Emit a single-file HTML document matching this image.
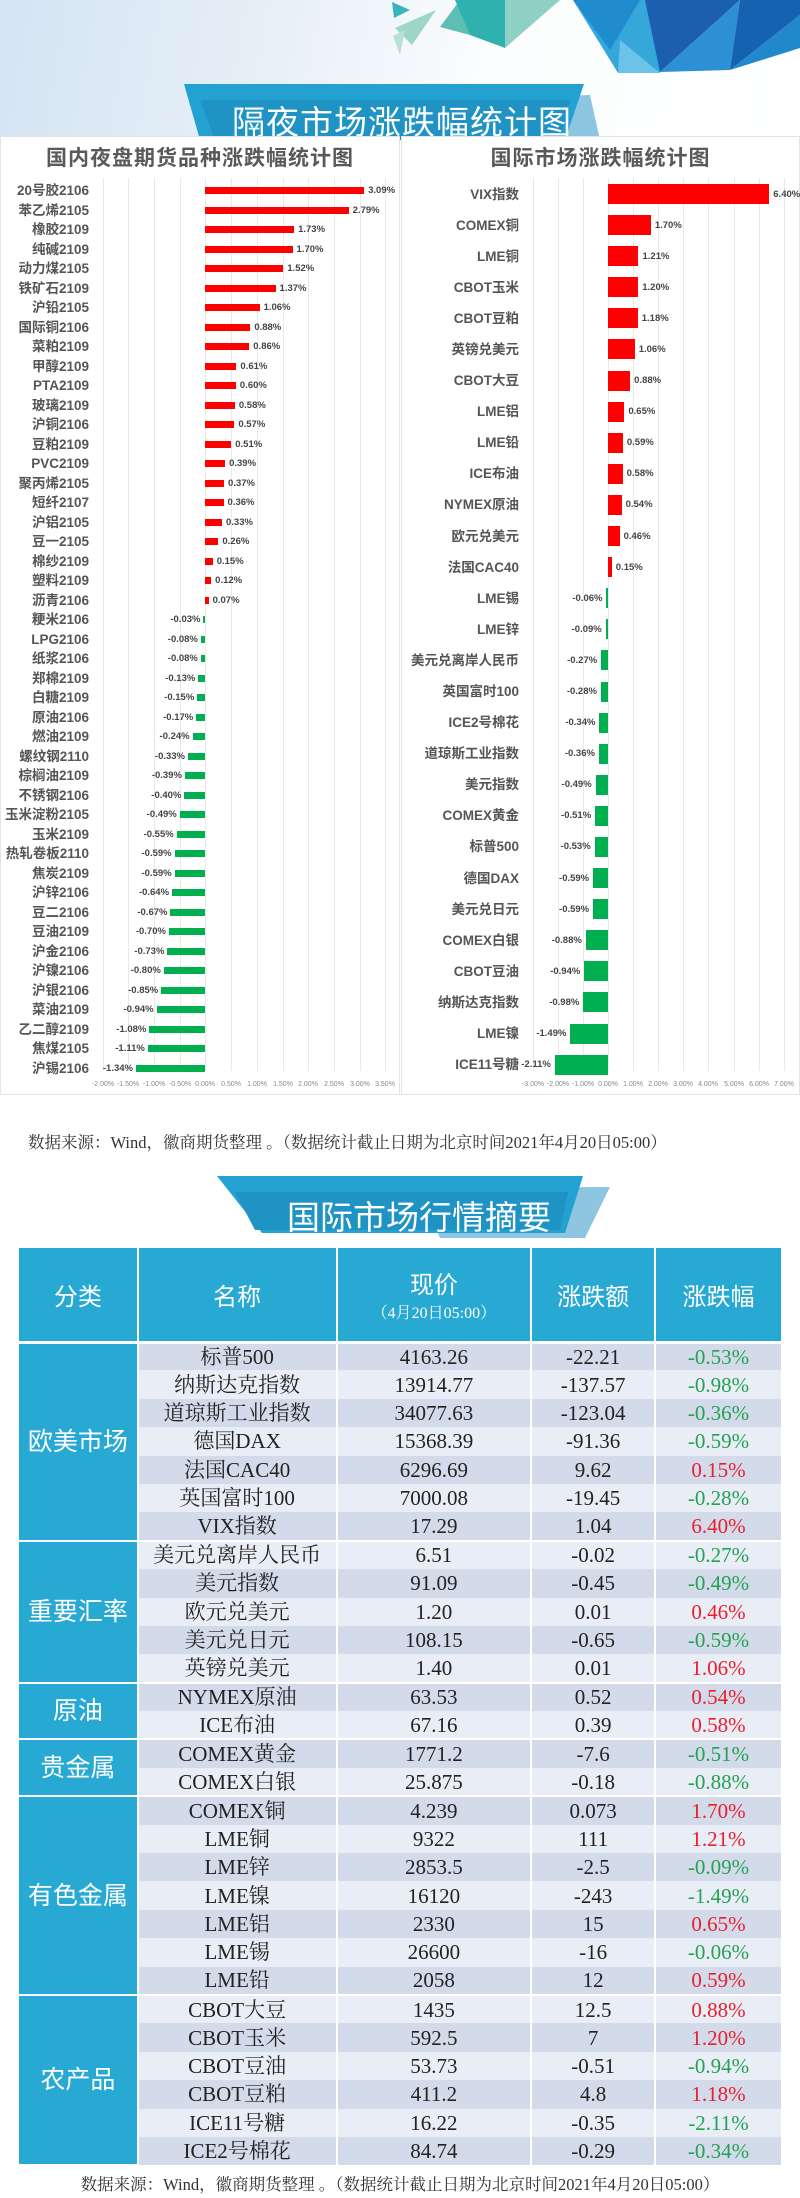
<!DOCTYPE html>
<html><head><meta charset="utf-8">
<style>
*{margin:0;padding:0;box-sizing:border-box}
body{width:800px;height:2198px;position:relative;background:#fff;font-family:"Liberation Sans","Noto Sans CJK SC",sans-serif;overflow:hidden}
.abs{position:absolute}
.panel{position:absolute;top:136px;height:959px;background:#fff;border:1px solid #e4e4e4}
.ct{position:absolute;top:142px;font-size:21px;font-weight:bold;color:#595959;text-align:center;letter-spacing:1px}
.grid{position:absolute;top:178px;height:893px;width:1px;background:#e9e9e9}
.rows{position:absolute;left:0;width:800px}
.r{position:relative;width:800px}
.lab{position:absolute;text-align:right;font-size:13px;font-weight:bold;color:#555;white-space:nowrap}
.bar{position:absolute}
.val{position:absolute;font-size:9.5px;color:#444;font-weight:bold;white-space:nowrap}
#L .r{height:19.5px}
#L .lab{right:711px;top:1px;line-height:18px;font-size:13.5px}
#L .bar{height:7px;top:6px}
#L .p .bar{left:205px;width:calc(var(--v)*51.5px);background:#ff0000}
#L .n .bar{left:calc(205px - var(--v)*51.5px);width:calc(var(--v)*51.5px);background:#00b050}
#L .val{top:3px;line-height:13px}
#L .p .val{left:calc(209px + var(--v)*51.5px)}
#L .n .val{right:calc(598px + var(--v)*51.5px)}
#R .r{height:31.1px}
#R .lab{right:281px;top:6px;line-height:19px;font-size:13.5px}
#R .bar{height:20px;top:5.5px}
#R .p .bar{left:608px;width:calc(var(--v)*25.2px);background:#ff0000}
#R .n .bar{left:calc(608px - var(--v)*25.2px);width:calc(var(--v)*25.2px);background:#00b050}
#R .val{top:9px;line-height:13px}
#R .p .val{left:calc(612px + var(--v)*25.2px)}
#R .n .val{right:calc(196px + var(--v)*25.2px)}
.ax{position:absolute;top:1081px;font-size:7px;color:#888;transform:translateX(-50%)}
.src{position:absolute;font-family:"Liberation Serif","Noto Serif CJK SC",serif;color:#333;white-space:nowrap}
table{position:absolute;left:19px;top:1248px;width:764px;border-collapse:collapse;font-family:"Liberation Serif","Noto Serif CJK SC",serif}
th{background:#27a9d4;color:#fff;font-weight:normal;font-family:"Liberation Sans","Noto Sans CJK SC",sans-serif;font-size:24px;height:94px;border-right:2px solid #fff;border-bottom:3px solid #fff}
th small{display:block;font-size:16px;font-family:"Liberation Serif","Noto Serif CJK SC",serif}
td{height:28.4px;font-size:21px;text-align:center;color:#222;border-right:2px solid #fff;line-height:26px;padding:0}
tr.a td{background:#d3dbeb}
tr.b td{background:#e9edf6}
td.g{background:#27a9d4!important;color:#fff;font-family:"Liberation Sans","Noto Sans CJK SC",sans-serif;font-size:25px;border-bottom:2px solid #fff}
tr.s td{border-top:2px solid #fff}
.gr{color:#24a152!important}.rd{color:#e8202e!important}
</style></head><body>
<div class="abs" style="left:0;top:0;width:800px;height:140px;background:linear-gradient(100deg,#d4e4f3 0%,#e8f0f8 35%,#fbfdfe 60%,#fff 100%)"></div>
<svg class="abs" style="left:0;top:0" width="800" height="140">
<polygon points="392,2 410,10 394,18" fill="#3bb3be"/>
<polygon points="395,28 436,10 412,45" fill="#9ed6c6"/>
<polygon points="393,36 405,30 400,55" fill="#b7e1d4"/>
<polygon points="440,27 460,0 470,35" fill="#5dbfb4"/>
<polygon points="455,0 505,0 505,48 470,35" fill="#2fb1b0"/>
<polygon points="505,0 560,0 505,48" fill="#8fd0c4"/>
<polygon points="573,0 660,0 660,73 618,73" fill="#36a7d9"/>
<polygon points="573,0 640,0 610,50" fill="#1f8ccd"/>
<polygon points="620,40 660,73 618,73" fill="#6cc3ea"/>
<polygon points="645,0 740,0 660,72" fill="#1b5fae"/>
<polygon points="660,72 740,0 730,70" fill="#2d8fd4"/>
<polygon points="730,70 740,0 800,0 800,15" fill="#1562b0"/>
<polygon points="730,70 800,15 800,48" fill="#2188cc"/>
<polygon points="430,100 590,95 600,140 450,140" fill="#8ec6e2"/>
<polygon points="184,84 584,84 565,140 200,140" fill="#23a1d0"/>
<polygon points="200,100 570,100 560,140 215,140" fill="#1e93c4"/>
</svg>
<div class="abs" style="left:232px;top:96px;font-size:33px;color:#fff;letter-spacing:1px;white-space:nowrap">隔夜市场涨跌幅统计图</div>

<div class="panel" style="left:0;width:400px"></div>
<div class="panel" style="left:401px;width:399px"></div>
<div class="ct" style="left:0;width:400px">国内夜盘期货品种涨跌幅统计图</div>
<div class="ct" style="left:401px;width:399px">国际市场涨跌幅统计图</div>

<div class="grid" style="left:103px"></div><div class="grid" style="left:128px"></div><div class="grid" style="left:154px"></div><div class="grid" style="left:180px"></div><div class="grid" style="left:205px"></div><div class="grid" style="left:231px"></div><div class="grid" style="left:257px"></div><div class="grid" style="left:283px"></div><div class="grid" style="left:308px"></div><div class="grid" style="left:334px"></div><div class="grid" style="left:360px"></div><div class="grid" style="left:385px"></div>
<div class="ax" style="left:103px">-2.00%</div><div class="ax" style="left:128px">-1.50%</div><div class="ax" style="left:154px">-1.00%</div><div class="ax" style="left:180px">-0.50%</div><div class="ax" style="left:205px">0.00%</div><div class="ax" style="left:231px">0.50%</div><div class="ax" style="left:257px">1.00%</div><div class="ax" style="left:283px">1.50%</div><div class="ax" style="left:308px">2.00%</div><div class="ax" style="left:334px">2.50%</div><div class="ax" style="left:360px">3.00%</div><div class="ax" style="left:385px">3.50%</div>
<div class="grid" style="left:533px"></div><div class="grid" style="left:558px"></div><div class="grid" style="left:583px"></div><div class="grid" style="left:608px"></div><div class="grid" style="left:633px"></div><div class="grid" style="left:658px"></div><div class="grid" style="left:683px"></div><div class="grid" style="left:708px"></div><div class="grid" style="left:734px"></div><div class="grid" style="left:759px"></div><div class="grid" style="left:784px"></div>
<div class="ax" style="left:533px">-3.00%</div><div class="ax" style="left:558px">-2.00%</div><div class="ax" style="left:583px">-1.00%</div><div class="ax" style="left:608px">0.00%</div><div class="ax" style="left:633px">1.00%</div><div class="ax" style="left:658px">2.00%</div><div class="ax" style="left:683px">3.00%</div><div class="ax" style="left:708px">4.00%</div><div class="ax" style="left:734px">5.00%</div><div class="ax" style="left:759px">6.00%</div><div class="ax" style="left:784px">7.00%</div>

<div class="rows" id="L" style="top:181px">
<div class="r p" style="--v:3.09"><span class="lab">20号胶2106</span><div class="bar"></div><span class="val">3.09%</span></div>
<div class="r p" style="--v:2.79"><span class="lab">苯乙烯2105</span><div class="bar"></div><span class="val">2.79%</span></div>
<div class="r p" style="--v:1.73"><span class="lab">橡胶2109</span><div class="bar"></div><span class="val">1.73%</span></div>
<div class="r p" style="--v:1.70"><span class="lab">纯碱2109</span><div class="bar"></div><span class="val">1.70%</span></div>
<div class="r p" style="--v:1.52"><span class="lab">动力煤2105</span><div class="bar"></div><span class="val">1.52%</span></div>
<div class="r p" style="--v:1.37"><span class="lab">铁矿石2109</span><div class="bar"></div><span class="val">1.37%</span></div>
<div class="r p" style="--v:1.06"><span class="lab">沪铅2105</span><div class="bar"></div><span class="val">1.06%</span></div>
<div class="r p" style="--v:0.88"><span class="lab">国际铜2106</span><div class="bar"></div><span class="val">0.88%</span></div>
<div class="r p" style="--v:0.86"><span class="lab">菜粕2109</span><div class="bar"></div><span class="val">0.86%</span></div>
<div class="r p" style="--v:0.61"><span class="lab">甲醇2109</span><div class="bar"></div><span class="val">0.61%</span></div>
<div class="r p" style="--v:0.60"><span class="lab">PTA2109</span><div class="bar"></div><span class="val">0.60%</span></div>
<div class="r p" style="--v:0.58"><span class="lab">玻璃2109</span><div class="bar"></div><span class="val">0.58%</span></div>
<div class="r p" style="--v:0.57"><span class="lab">沪铜2106</span><div class="bar"></div><span class="val">0.57%</span></div>
<div class="r p" style="--v:0.51"><span class="lab">豆粕2109</span><div class="bar"></div><span class="val">0.51%</span></div>
<div class="r p" style="--v:0.39"><span class="lab">PVC2109</span><div class="bar"></div><span class="val">0.39%</span></div>
<div class="r p" style="--v:0.37"><span class="lab">聚丙烯2105</span><div class="bar"></div><span class="val">0.37%</span></div>
<div class="r p" style="--v:0.36"><span class="lab">短纤2107</span><div class="bar"></div><span class="val">0.36%</span></div>
<div class="r p" style="--v:0.33"><span class="lab">沪铝2105</span><div class="bar"></div><span class="val">0.33%</span></div>
<div class="r p" style="--v:0.26"><span class="lab">豆一2105</span><div class="bar"></div><span class="val">0.26%</span></div>
<div class="r p" style="--v:0.15"><span class="lab">棉纱2109</span><div class="bar"></div><span class="val">0.15%</span></div>
<div class="r p" style="--v:0.12"><span class="lab">塑料2109</span><div class="bar"></div><span class="val">0.12%</span></div>
<div class="r p" style="--v:0.07"><span class="lab">沥青2106</span><div class="bar"></div><span class="val">0.07%</span></div>
<div class="r n" style="--v:0.03"><span class="lab">粳米2106</span><div class="bar"></div><span class="val">-0.03%</span></div>
<div class="r n" style="--v:0.08"><span class="lab">LPG2106</span><div class="bar"></div><span class="val">-0.08%</span></div>
<div class="r n" style="--v:0.08"><span class="lab">纸浆2106</span><div class="bar"></div><span class="val">-0.08%</span></div>
<div class="r n" style="--v:0.13"><span class="lab">郑棉2109</span><div class="bar"></div><span class="val">-0.13%</span></div>
<div class="r n" style="--v:0.15"><span class="lab">白糖2109</span><div class="bar"></div><span class="val">-0.15%</span></div>
<div class="r n" style="--v:0.17"><span class="lab">原油2106</span><div class="bar"></div><span class="val">-0.17%</span></div>
<div class="r n" style="--v:0.24"><span class="lab">燃油2109</span><div class="bar"></div><span class="val">-0.24%</span></div>
<div class="r n" style="--v:0.33"><span class="lab">螺纹钢2110</span><div class="bar"></div><span class="val">-0.33%</span></div>
<div class="r n" style="--v:0.39"><span class="lab">棕榈油2109</span><div class="bar"></div><span class="val">-0.39%</span></div>
<div class="r n" style="--v:0.40"><span class="lab">不锈钢2106</span><div class="bar"></div><span class="val">-0.40%</span></div>
<div class="r n" style="--v:0.49"><span class="lab">玉米淀粉2105</span><div class="bar"></div><span class="val">-0.49%</span></div>
<div class="r n" style="--v:0.55"><span class="lab">玉米2109</span><div class="bar"></div><span class="val">-0.55%</span></div>
<div class="r n" style="--v:0.59"><span class="lab">热轧卷板2110</span><div class="bar"></div><span class="val">-0.59%</span></div>
<div class="r n" style="--v:0.59"><span class="lab">焦炭2109</span><div class="bar"></div><span class="val">-0.59%</span></div>
<div class="r n" style="--v:0.64"><span class="lab">沪锌2106</span><div class="bar"></div><span class="val">-0.64%</span></div>
<div class="r n" style="--v:0.67"><span class="lab">豆二2106</span><div class="bar"></div><span class="val">-0.67%</span></div>
<div class="r n" style="--v:0.70"><span class="lab">豆油2109</span><div class="bar"></div><span class="val">-0.70%</span></div>
<div class="r n" style="--v:0.73"><span class="lab">沪金2106</span><div class="bar"></div><span class="val">-0.73%</span></div>
<div class="r n" style="--v:0.80"><span class="lab">沪镍2106</span><div class="bar"></div><span class="val">-0.80%</span></div>
<div class="r n" style="--v:0.85"><span class="lab">沪银2106</span><div class="bar"></div><span class="val">-0.85%</span></div>
<div class="r n" style="--v:0.94"><span class="lab">菜油2109</span><div class="bar"></div><span class="val">-0.94%</span></div>
<div class="r n" style="--v:1.08"><span class="lab">乙二醇2109</span><div class="bar"></div><span class="val">-1.08%</span></div>
<div class="r n" style="--v:1.11"><span class="lab">焦煤2105</span><div class="bar"></div><span class="val">-1.11%</span></div>
<div class="r n" style="--v:1.34"><span class="lab">沪锡2106</span><div class="bar"></div><span class="val">-1.34%</span></div>
</div>

<div class="rows" id="R" style="top:178.5px">
<div class="r p" style="--v:6.40"><span class="lab">VIX指数</span><div class="bar"></div><span class="val">6.40%</span></div>
<div class="r p" style="--v:1.70"><span class="lab">COMEX铜</span><div class="bar"></div><span class="val">1.70%</span></div>
<div class="r p" style="--v:1.21"><span class="lab">LME铜</span><div class="bar"></div><span class="val">1.21%</span></div>
<div class="r p" style="--v:1.20"><span class="lab">CBOT玉米</span><div class="bar"></div><span class="val">1.20%</span></div>
<div class="r p" style="--v:1.18"><span class="lab">CBOT豆粕</span><div class="bar"></div><span class="val">1.18%</span></div>
<div class="r p" style="--v:1.06"><span class="lab">英镑兑美元</span><div class="bar"></div><span class="val">1.06%</span></div>
<div class="r p" style="--v:0.88"><span class="lab">CBOT大豆</span><div class="bar"></div><span class="val">0.88%</span></div>
<div class="r p" style="--v:0.65"><span class="lab">LME铝</span><div class="bar"></div><span class="val">0.65%</span></div>
<div class="r p" style="--v:0.59"><span class="lab">LME铅</span><div class="bar"></div><span class="val">0.59%</span></div>
<div class="r p" style="--v:0.58"><span class="lab">ICE布油</span><div class="bar"></div><span class="val">0.58%</span></div>
<div class="r p" style="--v:0.54"><span class="lab">NYMEX原油</span><div class="bar"></div><span class="val">0.54%</span></div>
<div class="r p" style="--v:0.46"><span class="lab">欧元兑美元</span><div class="bar"></div><span class="val">0.46%</span></div>
<div class="r p" style="--v:0.15"><span class="lab">法国CAC40</span><div class="bar"></div><span class="val">0.15%</span></div>
<div class="r n" style="--v:0.06"><span class="lab">LME锡</span><div class="bar"></div><span class="val">-0.06%</span></div>
<div class="r n" style="--v:0.09"><span class="lab">LME锌</span><div class="bar"></div><span class="val">-0.09%</span></div>
<div class="r n" style="--v:0.27"><span class="lab">美元兑离岸人民币</span><div class="bar"></div><span class="val">-0.27%</span></div>
<div class="r n" style="--v:0.28"><span class="lab">英国富时100</span><div class="bar"></div><span class="val">-0.28%</span></div>
<div class="r n" style="--v:0.34"><span class="lab">ICE2号棉花</span><div class="bar"></div><span class="val">-0.34%</span></div>
<div class="r n" style="--v:0.36"><span class="lab">道琼斯工业指数</span><div class="bar"></div><span class="val">-0.36%</span></div>
<div class="r n" style="--v:0.49"><span class="lab">美元指数</span><div class="bar"></div><span class="val">-0.49%</span></div>
<div class="r n" style="--v:0.51"><span class="lab">COMEX黄金</span><div class="bar"></div><span class="val">-0.51%</span></div>
<div class="r n" style="--v:0.53"><span class="lab">标普500</span><div class="bar"></div><span class="val">-0.53%</span></div>
<div class="r n" style="--v:0.59"><span class="lab">德国DAX</span><div class="bar"></div><span class="val">-0.59%</span></div>
<div class="r n" style="--v:0.59"><span class="lab">美元兑日元</span><div class="bar"></div><span class="val">-0.59%</span></div>
<div class="r n" style="--v:0.88"><span class="lab">COMEX白银</span><div class="bar"></div><span class="val">-0.88%</span></div>
<div class="r n" style="--v:0.94"><span class="lab">CBOT豆油</span><div class="bar"></div><span class="val">-0.94%</span></div>
<div class="r n" style="--v:0.98"><span class="lab">纳斯达克指数</span><div class="bar"></div><span class="val">-0.98%</span></div>
<div class="r n" style="--v:1.49"><span class="lab">LME镍</span><div class="bar"></div><span class="val">-1.49%</span></div>
<div class="r n" style="--v:2.11"><span class="lab">ICE11号糖</span><div class="bar"></div><span class="val">-2.11%</span></div>
</div>

<div class="src" style="left:28px;top:1129px;font-size:16.5px">数据来源：Wind，徽商期货整理 。（数据统计截止日期为北京时间2021年4月20日05:00）</div>

<svg class="abs" style="left:0;top:1170px" width="800" height="70">
<polygon points="420,18 610,17 585,68 440,68" fill="#8ec6e2"/>
<polygon points="217,6 583,6 565,63 262,63" fill="#23a1d0"/>
<polygon points="235,22 568,22 560,60 255,60" fill="#1e93c4"/>
</svg>
<div class="abs" style="left:287px;top:1191px;font-size:33px;color:#fff;white-space:nowrap">国际市场行情摘要</div>

<table>
<colgroup><col style="width:119px"><col style="width:199px"><col style="width:195px"><col style="width:124px"><col style="width:127px"></colgroup>
<tr><th>分类</th><th>名称</th><th>现价<small>（4月20日05:00）</small></th><th>涨跌额</th><th>涨跌幅</th></tr>
<tr class="a"><td class="g" rowspan="7">欧美市场</td><td>标普500</td><td>4163.26</td><td>-22.21</td><td class="gr">-0.53%</td></tr>
<tr class="b"><td>纳斯达克指数</td><td>13914.77</td><td>-137.57</td><td class="gr">-0.98%</td></tr>
<tr class="a"><td>道琼斯工业指数</td><td>34077.63</td><td>-123.04</td><td class="gr">-0.36%</td></tr>
<tr class="b"><td>德国DAX</td><td>15368.39</td><td>-91.36</td><td class="gr">-0.59%</td></tr>
<tr class="a"><td>法国CAC40</td><td>6296.69</td><td>9.62</td><td class="rd">0.15%</td></tr>
<tr class="b"><td>英国富时100</td><td>7000.08</td><td>-19.45</td><td class="gr">-0.28%</td></tr>
<tr class="a"><td>VIX指数</td><td>17.29</td><td>1.04</td><td class="rd">6.40%</td></tr>
<tr class="b s"><td class="g" rowspan="5">重要汇率</td><td>美元兑离岸人民币</td><td>6.51</td><td>-0.02</td><td class="gr">-0.27%</td></tr>
<tr class="a"><td>美元指数</td><td>91.09</td><td>-0.45</td><td class="gr">-0.49%</td></tr>
<tr class="b"><td>欧元兑美元</td><td>1.20</td><td>0.01</td><td class="rd">0.46%</td></tr>
<tr class="a"><td>美元兑日元</td><td>108.15</td><td>-0.65</td><td class="gr">-0.59%</td></tr>
<tr class="b"><td>英镑兑美元</td><td>1.40</td><td>0.01</td><td class="rd">1.06%</td></tr>
<tr class="a s"><td class="g" rowspan="2">原油</td><td>NYMEX原油</td><td>63.53</td><td>0.52</td><td class="rd">0.54%</td></tr>
<tr class="b"><td>ICE布油</td><td>67.16</td><td>0.39</td><td class="rd">0.58%</td></tr>
<tr class="a s"><td class="g" rowspan="2">贵金属</td><td>COMEX黄金</td><td>1771.2</td><td>-7.6</td><td class="gr">-0.51%</td></tr>
<tr class="b"><td>COMEX白银</td><td>25.875</td><td>-0.18</td><td class="gr">-0.88%</td></tr>
<tr class="a s"><td class="g" rowspan="7">有色金属</td><td>COMEX铜</td><td>4.239</td><td>0.073</td><td class="rd">1.70%</td></tr>
<tr class="b"><td>LME铜</td><td>9322</td><td>111</td><td class="rd">1.21%</td></tr>
<tr class="a"><td>LME锌</td><td>2853.5</td><td>-2.5</td><td class="gr">-0.09%</td></tr>
<tr class="b"><td>LME镍</td><td>16120</td><td>-243</td><td class="gr">-1.49%</td></tr>
<tr class="a"><td>LME铝</td><td>2330</td><td>15</td><td class="rd">0.65%</td></tr>
<tr class="b"><td>LME锡</td><td>26600</td><td>-16</td><td class="gr">-0.06%</td></tr>
<tr class="a"><td>LME铅</td><td>2058</td><td>12</td><td class="rd">0.59%</td></tr>
<tr class="b s"><td class="g" rowspan="6">农产品</td><td>CBOT大豆</td><td>1435</td><td>12.5</td><td class="rd">0.88%</td></tr>
<tr class="a"><td>CBOT玉米</td><td>592.5</td><td>7</td><td class="rd">1.20%</td></tr>
<tr class="b"><td>CBOT豆油</td><td>53.73</td><td>-0.51</td><td class="gr">-0.94%</td></tr>
<tr class="a"><td>CBOT豆粕</td><td>411.2</td><td>4.8</td><td class="rd">1.18%</td></tr>
<tr class="b"><td>ICE11号糖</td><td>16.22</td><td>-0.35</td><td class="gr">-2.11%</td></tr>
<tr class="a"><td>ICE2号棉花</td><td>84.74</td><td>-0.29</td><td class="gr">-0.34%</td></tr>
</table>

<div class="src" style="left:0;width:800px;text-align:center;top:2171px;font-size:16.5px">数据来源：Wind，徽商期货整理 。（数据统计截止日期为北京时间2021年4月20日05:00）</div>
</body></html>
